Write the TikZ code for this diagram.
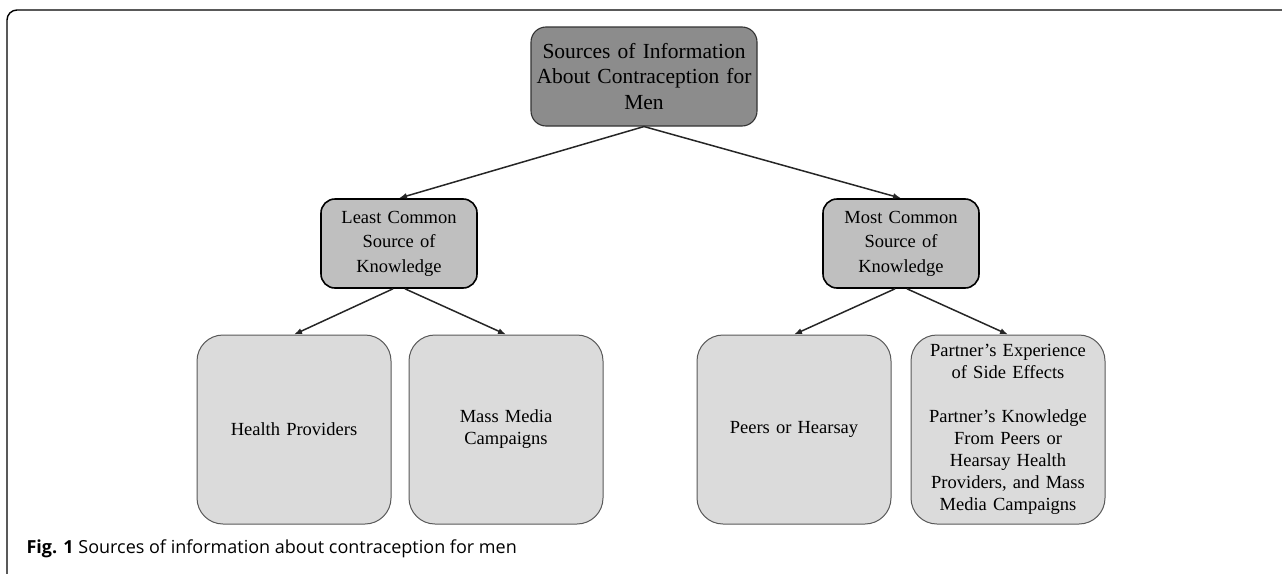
\documentclass[tikz,border=0pt]{standalone}
\usepackage{fontspec}
\setmainfont{Liberation Serif}
\newfontfamily\capfont{Open Sans}
\usetikzlibrary{arrows.meta, positioning}
\tikzstyle{topbox}=[draw=black!80,fill=black!45,rounded corners=15pt,line width=1.1pt,minimum width=226pt,minimum height=99pt,text width=220pt,align=center,inner sep=0pt,font=\fontsize{21.5}{25.5}\selectfont]
\tikzstyle{midbox}=[draw=black,fill=black!25,rounded corners=14pt,line width=1.6pt,minimum width=156pt,minimum height=89pt,text width=150pt,align=center,inner sep=0pt,font=\fontsize{18.5}{24.5}\selectfont]
\tikzstyle{leafbox}=[draw=black!65,fill=black!14,rounded corners=26pt,line width=1pt,minimum width=194pt,minimum height=189pt,text width=186pt,align=center,inner sep=0pt,font=\fontsize{18.5}{22}\selectfont]
\tikzstyle{link}=[-{Latex[length=8pt,width=6pt]},line width=1.5pt,draw=black!85]

\begin{document}
\begin{tikzpicture}[x=1pt,y=-1pt]
    \useasboundingbox (0,0) rectangle (1282,573);
    % frame
    \begin{scope}
        \clip (0,0) rectangle (1282,573);
        \draw[line width=1.4pt,rounded corners=10pt] (30,590) -| (7,10) -- (1290,10);
    \end{scope}
    \node[topbox] (src) at (644,76.5) {Sources of Information\\About Contraception for\\Men};
    \node[midbox] (least) at (399,243.5) {Least Common\\Source of\\Knowledge};
    \node[midbox] (most) at (901,243.5) {Most Common\\Source of\\Knowledge};
    \node[leafbox] (health) at (294,429.5) {Health Providers};
    \node[leafbox, right=17pt of health] (media) {Mass Media\\Campaigns};
    \node[leafbox] (peers) at (794,429.5) {Peers or Hearsay};
    \node[leafbox, right=19pt of peers] (partner) {Partner’s Experience\\of Side Effects\\[22pt]Partner’s Knowledge\\From Peers or\\Hearsay Health\\Providers, and Mass\\Media Campaigns};
    \draw[link] (src.south) -- (least.north);
    \draw[link] (src.south) -- (most.north);
    \draw[link] ([xshift=-6pt]least.south) -- (health.north);
    \draw[link] ([xshift=6pt]least.south) -- (media.north);
    \draw[link] ([xshift=-6pt]most.south) -- (peers.north);
    \draw[link] ([xshift=6pt]most.south) -- (partner.north);
    \node[anchor=base west,font=\capfont\fontsize{18}{21}\selectfont] (cap) at (23,553) {\textbf{Fig. 1} Sources of information about contraception for men};
\end{tikzpicture}
\end{document}
